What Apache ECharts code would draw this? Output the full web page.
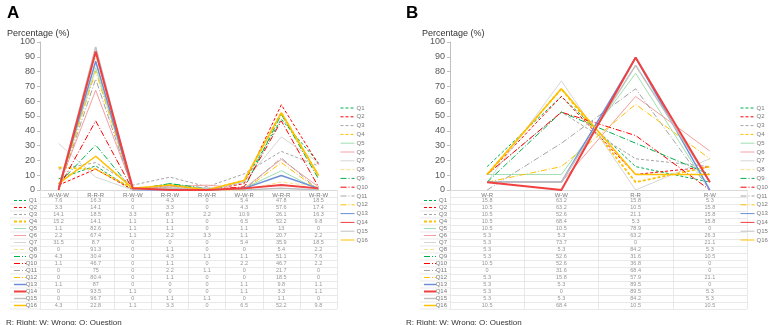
<!DOCTYPE html>
<html>
<head>
<meta charset="utf-8">
<script src="https://cdn.jsdelivr.net/npm/echarts@6/dist/echarts.min.js"></script>
<style>
  html, body { margin: 0; padding: 0; background: #fff; }
  #chart { width: 777px; height: 325px; }
</style>
</head>
<body>
<div id="chart"></div>
<script>
// panel A: three-step answer patterns
const catsA = ['W-W-W', 'R-R-R', 'R-W-W', 'R-R-W', 'R-W-R', 'W-W-R', 'W-R-R', 'W-R-W']
// panel B: two-step answer patterns
const catsB = ['W-R', 'W-W', 'R-R', 'R-W']
const questions = ['Q1', 'Q2', 'Q3', 'Q4', 'Q5', 'Q6', 'Q7', 'Q8', 'Q9', 'Q10', 'Q11', 'Q12', 'Q13', 'Q14', 'Q15', 'Q16']
const yTicks = [0, 10, 20, 30, 40, 50, 60, 70, 80, 90, 100]

const valuesA = [
  [7.6, 16.3, 0, 4.3, 0, 5.4, 47.8, 18.5],
  [3.3, 14.1, 0, 3.3, 0, 4.3, 57.6, 17.4],
  [14.1, 18.5, 3.3, 8.7, 2.2, 10.9, 26.1, 16.3],
  [15.2, 14.1, 1.1, 1.1, 0, 6.5, 52.2, 9.8],
  [1.1, 82.6, 1.1, 1.1, 0, 1.1, 13, 0],
  [2.2, 67.4, 1.1, 2.2, 3.3, 1.1, 20.7, 2.2],
  [31.5, 8.7, 0, 0, 0, 5.4, 35.9, 18.5],
  [0, 91.3, 0, 1.1, 0, 0, 5.4, 2.2],
  [4.3, 30.4, 0, 4.3, 1.1, 1.1, 51.1, 7.6],
  [1.1, 46.7, 0, 1.1, 0, 2.2, 46.7, 2.2],
  [0, 75, 0, 2.2, 1.1, 0, 21.7, 0],
  [0, 80.4, 0, 1.1, 0, 0, 18.5, 0],
  [1.1, 87, 0, 0, 0, 1.1, 9.8, 1.1],
  [0, 93.5, 1.1, 0, 0, 1.1, 3.3, 1.1],
  [0, 96.7, 0, 1.1, 1.1, 0, 1.1, 0],
  [4.3, 22.8, 1.1, 3.3, 0, 6.5, 52.2, 9.8]
]

const valuesB = [
  [15.8, 63.2, 15.8, 5.3],
  [10.5, 63.2, 10.5, 15.8],
  [10.5, 52.6, 21.1, 15.8],
  [10.5, 68.4, 5.3, 15.8],
  [10.5, 10.5, 78.9, 0],
  [5.3, 5.3, 63.2, 26.3],
  [5.3, 73.7, 0, 21.1],
  [5.3, 5.3, 84.2, 5.3],
  [5.3, 52.6, 31.6, 10.5],
  [10.5, 52.6, 36.8, 0],
  [0, 31.6, 68.4, 0],
  [5.3, 15.8, 57.9, 21.1],
  [5.3, 5.3, 89.5, 0],
  [5.3, 0, 89.5, 5.3],
  [5.3, 5.3, 84.2, 5.3],
  [10.5, 68.4, 10.5, 10.5]
]

const dash = [3, 2]
const dashDot = [6, 2, 1, 2]
const lineStyles = [
  { color: '#00b050', width: 1, type: dash },
  { color: '#ff0000', width: 1, type: dash },
  { color: '#a5a5a5', width: 1, type: dash },
  { color: '#ffc000', width: 1.8, type: dash },
  { color: '#9fdfb0', width: 1, type: 'solid' },
  { color: '#f4a0a0', width: 1, type: 'solid' },
  { color: '#d6d6d6', width: 1, type: 'solid' },
  { color: '#ffe08a', width: 1, type: [4, 2] },
  { color: '#00b050', width: 1, type: dashDot },
  { color: '#ff0000', width: 1, type: dashDot },
  { color: '#a5a5a5', width: 1, type: dashDot },
  { color: '#ffc000', width: 1, type: dashDot },
  { color: '#6d8fd8', width: 1.5, type: 'solid' },
  { color: '#f04040', width: 2, type: 'solid' },
  { color: '#c0c0c0', width: 1.5, type: 'solid' },
  { color: '#ffc000', width: 1.5, type: 'solid' }
]

const chart = echarts.init(document.getElementById('chart'))
const font = 'Liberation Sans, Arial, sans-serif'
const tableRows = [''].concat(questions)
const gridLine = { show: true, interval: 0, lineStyle: { color: '#e3e3e3', width: 0.8 } }

const lineSeries = (values, axis) => values.map((row, i) => ({
  name: questions[i],
  type: 'line',
  xAxisIndex: axis,
  yAxisIndex: axis,
  symbol: 'none',
  silent: true,
  z: i === 13 ? 5 : 2,
  color: lineStyles[i].color,
  lineStyle: lineStyles[i],
  data: row
}))

const cellSeries = (values, axis) => {
  const cells = []
  values.forEach((row, i) => row.forEach((v, j) => cells.push([j, i + 1, v])))
  return {
    type: 'scatter',
    xAxisIndex: axis,
    yAxisIndex: axis,
    symbolSize: 0,
    silent: true,
    label: {
      show: true,
      position: 'inside',
      fontSize: 5.5,
      fontFamily: font,
      color: '#7a7a7a',
      formatter: p => String(p.value[2])
    },
    data: cells
  }
}

// little line samples in the table's first column
const keySeries = axis => ({
  type: 'custom',
  xAxisIndex: axis,
  yAxisIndex: axis,
  silent: true,
  clip: false,
  renderItem: (params, api) => {
    const i = api.value(1)
    const pt = api.coord([0, i])
    const x0 = params.coordSys.x
    const st = lineStyles[i - 1]
    const half = api.size([0, 1])[1] / 2
    return {
      type: 'group',
      children: [
        {
          type: 'line',
          shape: { x1: x0 - 26, y1: pt[1], x2: x0 - 14, y2: pt[1] },
          style: { stroke: st.color, lineWidth: st.width, lineDash: Array.isArray(st.type) ? st.type : null }
        },
        {
          type: 'line',
          shape: { x1: x0 - 30, y1: pt[1] + half, x2: x0, y2: pt[1] + half },
          style: { stroke: '#e3e3e3', lineWidth: 0.8 }
        }
      ]
    }
  },
  data: questions.map((q, i) => [0, i + 1])
})

const chartGrids = [
  { left: 40, top: 42, width: 297, height: 148 },
  { left: 450, top: 42, width: 297, height: 148 },
  { left: 40, top: 190, width: 297, height: 119 },
  { left: 450, top: 190, width: 297, height: 119 }
]

const valueAxis = i => ({
  type: 'value',
  gridIndex: i,
  min: yTicks[0],
  max: yTicks[yTicks.length - 1],
  interval: 10,
  axisLine: { show: true, lineStyle: { color: '#bfbfbf' } },
  axisTick: { show: true, length: 3, lineStyle: { color: '#bfbfbf' } },
  splitLine: { show: false },
  axisLabel: { fontSize: 9, color: '#595959', fontFamily: font, margin: 5 }
})

const catAxis = (i, cats) => ({
  type: 'category',
  gridIndex: i,
  data: cats,
  boundaryGap: true,
  axisLine: { show: true, lineStyle: { color: '#d9d9d9' } },
  axisTick: { show: false },
  axisLabel: { fontSize: 6, color: '#777', fontFamily: font, margin: 2, interval: 0 }
})

const tableX = (i, cats) => ({
  type: 'category',
  gridIndex: i,
  data: cats,
  boundaryGap: true,
  axisLine: { show: false },
  axisTick: { show: false },
  axisLabel: { show: false, interval: 0 },
  splitLine: gridLine
})

const tableY = i => ({
  type: 'category',
  gridIndex: i,
  data: tableRows,
  inverse: true,
  axisLine: { show: false },
  axisTick: { show: false },
  axisLabel: { fontSize: 6, color: '#777', fontFamily: font, margin: 3, interval: 0 },
  splitLine: gridLine
})

const legendOf = left => ({
  orient: 'vertical',
  left: left,
  top: 105,
  padding: 0,
  itemWidth: 14,
  itemHeight: 6,
  itemGap: 2.8,
  selectedMode: false,
  itemStyle: { opacity: 0 },
  lineStyle: { width: 1 },
  textStyle: { fontSize: 6, color: '#777', fontFamily: font, padding: [0, 0, 0, -3] },
  data: questions
})

chart.setOption({
  animation: false,
  title: [
    { text: 'A', left: 2, top: 0, textStyle: { fontSize: 17, fontWeight: 'bold', color: '#000', fontFamily: font } },
    { text: 'Percentage (%)', left: 2, top: 24, textStyle: { fontSize: 9, fontWeight: 'normal', color: '#333', fontFamily: font } },
    { text: 'B', left: 401, top: 0, textStyle: { fontSize: 17, fontWeight: 'bold', color: '#000', fontFamily: font } },
    { text: 'Percentage (%)', left: 417, top: 24, textStyle: { fontSize: 9, fontWeight: 'normal', color: '#333', fontFamily: font } },
    { text: 'R: Right; W: Wrong; Q: Question', left: 1, top: 314, textStyle: { fontSize: 8, fontWeight: 'normal', color: '#333', fontFamily: font } },
    { text: 'R: Right; W: Wrong; Q: Question', left: 401, top: 314, textStyle: { fontSize: 8, fontWeight: 'normal', color: '#333', fontFamily: font } }
  ],
  legend: [legendOf(340), legendOf(740)],
  grid: chartGrids,
  xAxis: [catAxis(0, catsA), catAxis(1, catsB), tableX(2, catsA), tableX(3, catsB)],
  yAxis: [valueAxis(0), valueAxis(1), tableY(2), tableY(3)],
  series: [].concat(
    lineSeries(valuesA, 0),
    lineSeries(valuesB, 1),
    [cellSeries(valuesA, 2), cellSeries(valuesB, 3), keySeries(2), keySeries(3)]
  )
})
</script>
</body>
</html>
